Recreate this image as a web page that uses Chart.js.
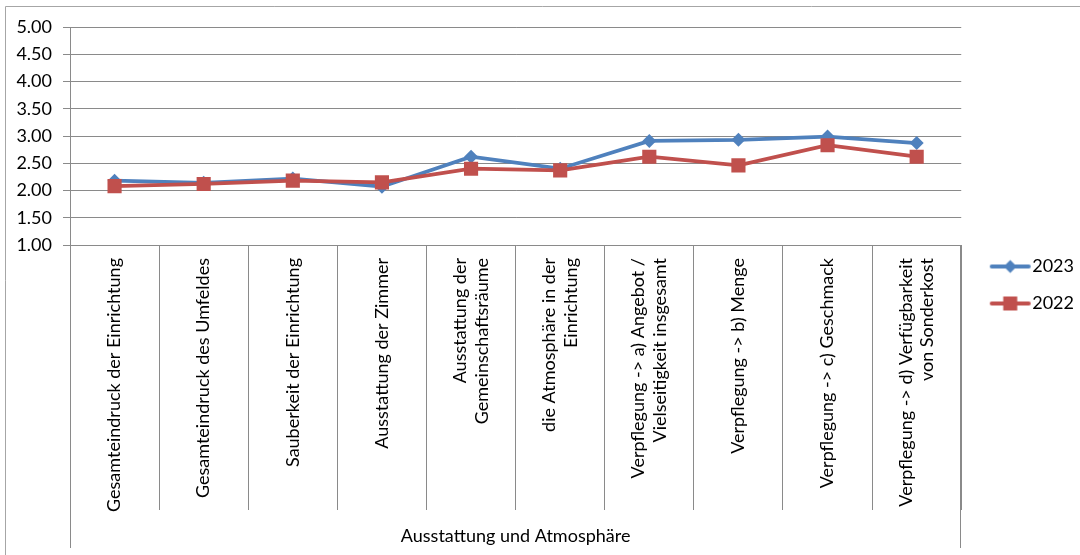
<!DOCTYPE html>
<html>
<head>
<meta charset="utf-8">
<script src="https://cdn.jsdelivr.net/npm/chart.js@4.4.1/dist/chart.umd.min.js"></script>
<style>
  html, body { margin: 0; padding: 0; background: #fff; }
  #wrap { width: 1080px; height: 555px; }
</style>
</head>
<body>
<div id="wrap"><canvas id="chart"></canvas></div>
<script>
'use strict';

const categories = [
  'Gesamteindruck der Einrichtung',
  'Gesamteindruck des Umfeldes',
  'Sauberkeit der Einrichtung',
  'Ausstattung der Zimmer',
  ['Ausstattung der', 'Gemeinschaftsräume'],
  ['die Atmosphäre in der', 'Einrichtung'],
  ['Verpflegung -> a) Angebot /', 'Vielseitigkeit insgesamt'],
  'Verpflegung -> b) Menge',
  'Verpflegung -> c) Geschmack',
  ['Verpflegung -> d) Verfügbarkeit', 'von Sonderkost']
];
const groupLabel = 'Ausstattung und Atmosphäre';
const values2023 = [2.18, 2.14, 2.22, 2.07, 2.62, 2.40, 2.91, 2.93, 2.99, 2.87];
const values2022 = [2.08, 2.12, 2.18, 2.15, 2.40, 2.37, 2.62, 2.46, 2.83, 2.62];
const yMin = 1;
const yMax = 5;
const yStep = 0.5;

const FONT = 'Lato';
const FONT_SIZE = 18;
const gridColor = '#8a8a8a';
const blue = '#4F81BD';
const red = '#C0504D';

// legend swatch: line with the marker in the middle, like the office charts
function legendSwatch(color, shape) {
  const c = document.createElement('canvas');
  c.width = 60;
  c.height = 16;
  const ctx = c.getContext('2d');
  ctx.strokeStyle = color;
  ctx.fillStyle = color;
  ctx.lineWidth = 4;
  ctx.lineCap = 'round';
  ctx.beginPath();
  ctx.moveTo(20, 8);
  ctx.lineTo(57, 8);
  ctx.stroke();
  if (shape === 'diamond') {
    ctx.beginPath();
    ctx.moveTo(38.5, 1.5);
    ctx.lineTo(45, 8);
    ctx.lineTo(38.5, 14.5);
    ctx.lineTo(32, 8);
    ctx.closePath();
    ctx.fill();
  } else {
    ctx.fillRect(31.5, 1, 14, 14);
  }
  return c;
}

const frameLines = {
  id: 'frameLines',
  beforeDraw(chart) {
    const ctx = chart.ctx;
    ctx.save();
    ctx.strokeStyle = '#a6a6a6';
    ctx.lineWidth = 1;
    ctx.beginPath();
    ctx.moveTo(5.5, chart.height);
    ctx.lineTo(5.5, 6.5);
    ctx.lineTo(chart.width, 6.5);
    ctx.stroke();
    ctx.restore();

    // centre two-line category labels on their category
    chart.scales.x.getLabelItems().forEach(function (item) {
      if (Array.isArray(item.label) && !item.centred) {
        item.options.translation[0] -= item.font.lineHeight / 2;
        item.centred = true;
      }
    });
  },
  afterDraw(chart) {
    // outer group boundaries run further down, past the category dividers
    const a = chart.chartArea;
    const ctx = chart.ctx;
    ctx.save();
    ctx.strokeStyle = gridColor;
    ctx.lineWidth = 1;
    ctx.beginPath();
    ctx.moveTo(Math.round(a.left) + 0.5, a.bottom);
    ctx.lineTo(Math.round(a.left) + 0.5, 548);
    ctx.moveTo(Math.round(a.right) - 0.5, a.bottom);
    ctx.lineTo(Math.round(a.right) - 0.5, 548);
    ctx.stroke();
    ctx.restore();
  }
};

const swatches = {
  '2023': legendSwatch(blue, 'diamond'),
  '2022': legendSwatch(red, 'square')
};

const data = {
  labels: categories,
  datasets: [
    {
      label: '2022',
      data: values2022,
      borderColor: red,
      backgroundColor: red,
      borderWidth: 3.75,
      pointStyle: 'rect',
      pointRadius: 10,
      pointHoverRadius: 10,
      pointBorderWidth: 0,
      tension: 0
    },
    {
      label: '2023',
      data: values2023,
      borderColor: blue,
      backgroundColor: blue,
      borderWidth: 3.75,
      pointStyle: 'rectRot',
      pointRadius: 7,
      pointHoverRadius: 7,
      pointBorderWidth: 0,
      tension: 0
    }
  ]
};

const config = {
  type: 'line',
  data: data,
  plugins: [frameLines],
  options: {
    responsive: true,
    maintainAspectRatio: false,
    animation: false,
    layout: { padding: { left: 5, top: 27, right: -4, bottom: 12 } },
    plugins: {
      tooltip: { enabled: false },
      legend: {
        position: 'right',
        reverse: true,
        labels: {
          usePointStyle: true,
          pointStyleWidth: 43,
          padding: 19,
          color: '#000',
          font: { family: FONT, size: FONT_SIZE },
          generateLabels(chart) {
            const items = Chart.defaults.plugins.legend.labels.generateLabels(chart);
            items.forEach(function (it) { it.pointStyle = swatches[it.text]; });
            return items;
          }
        }
      }
    },
    scales: {
      x: {
        offset: true,
        grid: {
          offset: true,
          drawOnChartArea: false,
          drawTicks: true,
          tickLength: 265,
          color: gridColor
        },
        border: { display: false },
        ticks: {
          autoSkip: false,
          minRotation: 90,
          maxRotation: 90,
          padding: -252,
          color: '#000',
          font: { family: FONT, size: FONT_SIZE }
        },
        title: {
          display: true,
          text: groupLabel,
          color: '#000',
          font: { family: FONT, size: FONT_SIZE },
          padding: { top: 0, bottom: -4 }
        },
        afterFit(scale) { scale.height = 298; }
      },
      y: {
        min: yMin,
        max: yMax,
        grid: { color: gridColor, tickLength: 7 },
        border: { color: gridColor },
        ticks: {
          stepSize: yStep,
          padding: 11,
          color: '#000',
          font: { family: FONT, size: FONT_SIZE },
          callback: function (v) { return v.toFixed(2); }
        },
        afterFit(scale) { scale.width = 65; }
      }
    }
  }
};

const myChart = new Chart(document.getElementById('chart'), config);
</script>
</body>
</html>
